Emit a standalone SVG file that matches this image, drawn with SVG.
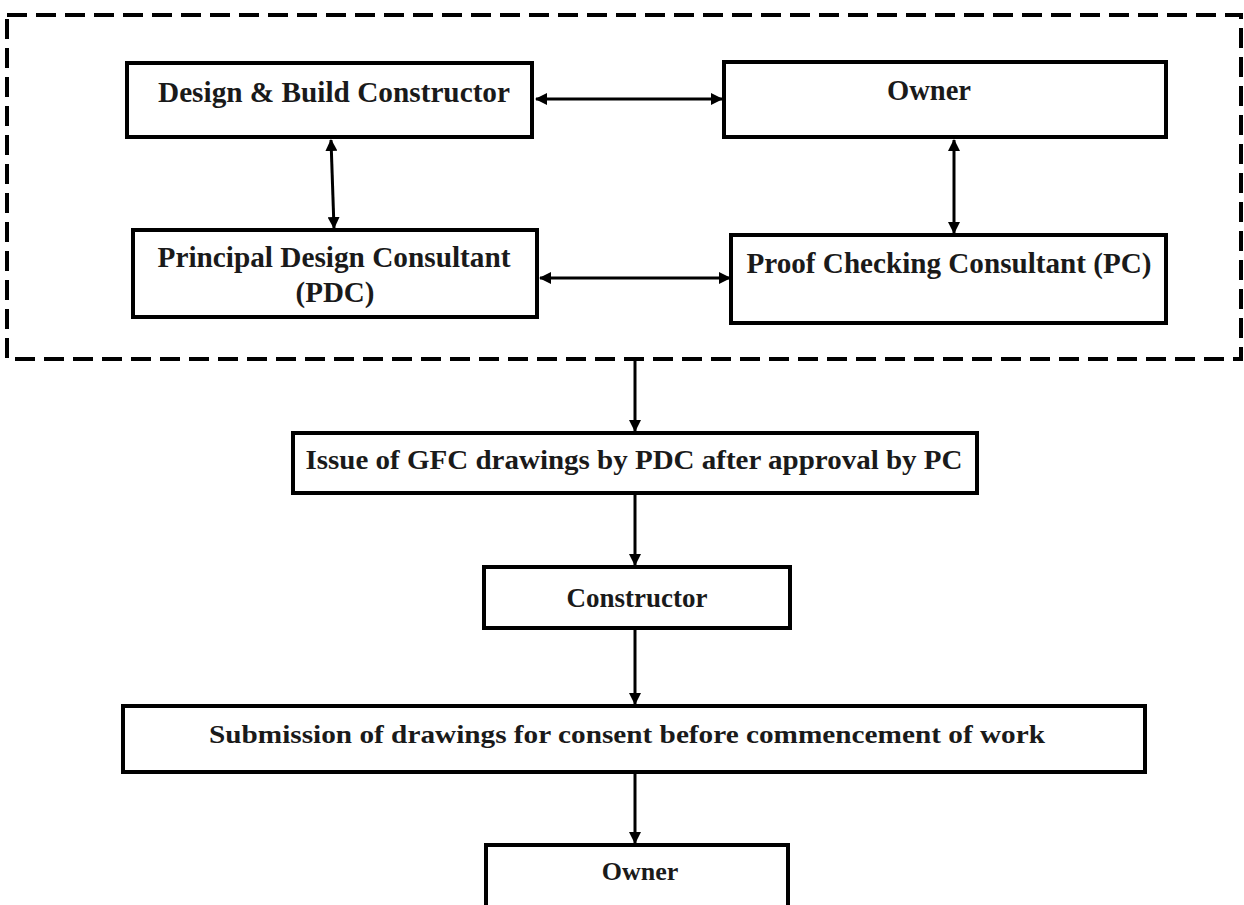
<svg xmlns="http://www.w3.org/2000/svg" width="1244" height="905" viewBox="0 0 1244 905">
<style>
.box{fill:#fff;stroke:#000;stroke-width:4}
.lbl{font-family:"Liberation Serif","Times New Roman",serif;font-weight:bold;fill:#1a1a1a;text-anchor:middle}
.con{stroke:#000;stroke-width:3;fill:none}
</style>
<defs>
<marker id="ah" viewBox="0 0 12 12" refX="11" refY="6" markerWidth="12" markerHeight="12" markerUnits="userSpaceOnUse" orient="auto-start-reverse">
<path d="M0,0 L12,6 L0,12 z" fill="#000"/>
</marker>
</defs>
<rect width="1244" height="905" fill="#fff"/>
<g id="group-border">
<rect x="7" y="15" width="1234" height="344" fill="none" stroke="#000" stroke-width="4" stroke-dasharray="20 9"/>
</g>
<g id="node-dbc">
<rect class="box" x="127" y="63" width="405" height="74"/>
<text class="lbl" x="334" y="102" font-size="29" textLength="352" lengthAdjust="spacingAndGlyphs">Design &amp; Build Constructor</text>
</g>
<g id="node-owner-top">
<rect class="box" x="724" y="62" width="442" height="75"/>
<text class="lbl" x="929" y="100" font-size="29" textLength="84" lengthAdjust="spacingAndGlyphs">Owner</text>
</g>
<g id="node-pdc">
<rect class="box" x="133" y="230" width="404" height="87"/>
<text class="lbl" x="334" y="267" font-size="29" textLength="353" lengthAdjust="spacingAndGlyphs">Principal Design Consultant</text>
<text class="lbl" x="335" y="302" font-size="29" textLength="79" lengthAdjust="spacingAndGlyphs">(PDC)</text>
</g>
<g id="node-pc">
<rect class="box" x="731" y="235" width="435" height="88"/>
<text class="lbl" x="949" y="273" font-size="29" textLength="405" lengthAdjust="spacingAndGlyphs">Proof Checking Consultant (PC)</text>
</g>
<g id="node-gfc">
<rect class="box" x="293" y="433" width="684" height="60"/>
<text class="lbl" x="634" y="469" font-size="27" textLength="657" lengthAdjust="spacingAndGlyphs">Issue of GFC drawings by PDC after approval by PC</text>
</g>
<g id="node-constructor">
<rect class="box" x="484" y="567" width="306" height="61"/>
<text class="lbl" x="637" y="607" font-size="27">Constructor</text>
</g>
<g id="node-submission">
<rect class="box" x="123" y="706" width="1022" height="66"/>
<text class="lbl" x="627" y="743" font-size="26" textLength="836" lengthAdjust="spacingAndGlyphs">Submission of drawings for consent before commencement of work</text>
</g>
<g id="node-owner-bottom">
<rect class="box" x="486" y="845" width="302" height="70"/>
<text class="lbl" x="640" y="880" font-size="26">Owner</text>
</g>
<g id="connectors">
<line class="con" x1="536" y1="99" x2="722" y2="99" marker-start="url(#ah)" marker-end="url(#ah)"/>
<line class="con" x1="331" y1="140" x2="334" y2="228" marker-start="url(#ah)" marker-end="url(#ah)"/>
<line class="con" x1="954" y1="140" x2="954" y2="233" marker-start="url(#ah)" marker-end="url(#ah)"/>
<line class="con" x1="540" y1="278" x2="730" y2="278" marker-start="url(#ah)" marker-end="url(#ah)"/>
<line class="con" x1="635" y1="359" x2="635" y2="431" marker-end="url(#ah)"/>
<line class="con" x1="635" y1="495" x2="635" y2="565" marker-end="url(#ah)"/>
<line class="con" x1="635" y1="630" x2="635" y2="704" marker-end="url(#ah)"/>
<line class="con" x1="635" y1="774" x2="635" y2="843" marker-end="url(#ah)"/>
</g>
</svg>
